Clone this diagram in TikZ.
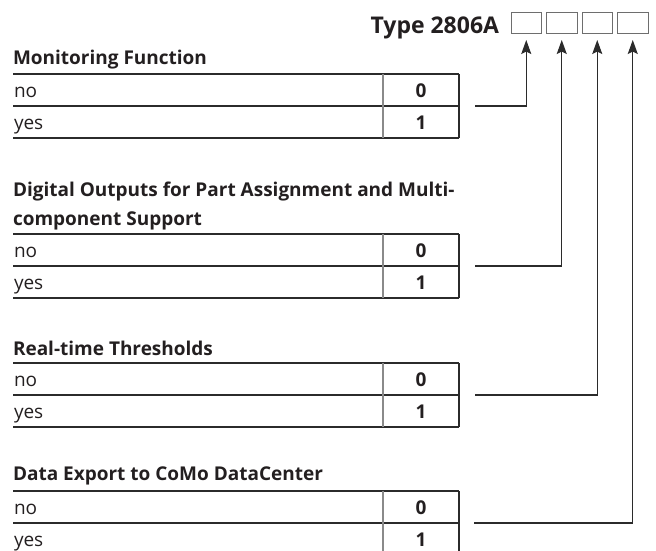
\documentclass[tikz,border=0pt]{standalone}
\usepackage{fontspec}
\setmainfont{Open Sans}
\usetikzlibrary{arrows.meta}
\definecolor{txt}{HTML}{231F20}
\definecolor{lin}{HTML}{2B2B2B}
\definecolor{gln}{HTML}{8A8A8A}
\definecolor{bxl}{HTML}{6E6E6E}
\begin{document}
\begin{tikzpicture}[x=1pt,y=-1pt,
  every node/.style={inner sep=0pt, outer sep=0pt, text=txt},
  head/.style={anchor=base west, font=\fontsize{19}{22}\selectfont\bfseries},
  cell/.style={anchor=base west, font=\fontsize{19}{22}\selectfont},
  digit/.style={anchor=base, font=\fontsize{19}{22}\selectfont\bfseries},
  hline/.style={draw=lin, line width=1.1pt},
  colline/.style={draw=gln, line width=1.1pt},
  codebox/.style={draw=bxl, line width=0.9pt, minimum width=30.5pt, minimum height=21pt, anchor=north west},
  conn/.style={draw=lin, line width=1.1pt, -{Stealth[length=14pt,width=10pt,inset=2.5pt]}, shorten >=7pt}
]
\useasboundingbox (0,0) rectangle (656,551);

% title and code boxes
\node[anchor=base east, font=\fontsize{23}{26}\selectfont\bfseries] (title) at (499,34) {Type 2806A};
\node[codebox] (b1) at (511,12) {};
\node[codebox] (b2) at (546.5,12) {};
\node[codebox] (b3) at (582,12) {};
\node[codebox] (b4) at (617.5,12) {};

% table 1
\node[head] (h1) at (13,65) {Monitoring Function};
\draw[hline] (13,74) -- (459,74) (13,106) -- (459,106) (13,138) -- (459,138);
\draw[colline] (383,74) -- (383,138);
\draw[hline] (459,74) -- (459,138);
\node[cell] (n1) at (14,97.5) {no};
\node[cell] (y1) at (14,129.5) {yes};
\node[digit] (z1) at (421,97.5) {0};
\node[digit] (o1) at (421,129.5) {1};
\coordinate (c1) at (475,106);

% table 2
\node[head] (h2a) at (13,196) {Digital Outputs for Part Assignment and Multi-};
\node[head] (h2b) at (13,225) {component Support};
\draw[hline] (13,234) -- (459,234) (13,266) -- (459,266) (13,298) -- (459,298);
\draw[colline] (383,234) -- (383,298);
\draw[hline] (459,234) -- (459,298);
\node[cell] (n2) at (14,257.5) {no};
\node[cell] (y2) at (14,289.5) {yes};
\node[digit] (z2) at (421,257.5) {0};
\node[digit] (o2) at (421,289.5) {1};
\coordinate (c2) at (475,266);

% table 3
\node[head] (h3) at (13,355) {Real-time Thresholds};
\draw[hline] (13,363) -- (459,363) (13,395) -- (459,395) (13,427) -- (459,427);
\draw[colline] (383,363) -- (383,427);
\draw[hline] (459,363) -- (459,427);
\node[cell] (n3) at (14,386.5) {no};
\node[cell] (y3) at (14,418.5) {yes};
\node[digit] (z3) at (421,386.5) {0};
\node[digit] (o3) at (421,418.5) {1};
\coordinate (c3) at (475,395);

% table 4
\node[head] (h4) at (13,480) {Data Export to CoMo DataCenter};
\draw[hline] (13,491) -- (459,491) (13,523) -- (459,523) (13,555) -- (459,555);
\draw[colline] (383,491) -- (383,555);
\draw[hline] (459,491) -- (459,555);
\node[cell] (n4) at (14,514.5) {no};
\node[cell] (y4) at (14,546.5) {yes};
\node[digit] (z4) at (421,514.5) {0};
\node[digit] (o4) at (421,546.5) {1};
\coordinate (c4) at (474,523);

% connectors
\draw[conn] (c1) -| (b1.south);
\draw[conn] (c2) -| (b2.south);
\draw[conn] (c3) -| (b3.south);
\draw[conn] (c4) -| (b4.south);
\end{tikzpicture}
\end{document}
